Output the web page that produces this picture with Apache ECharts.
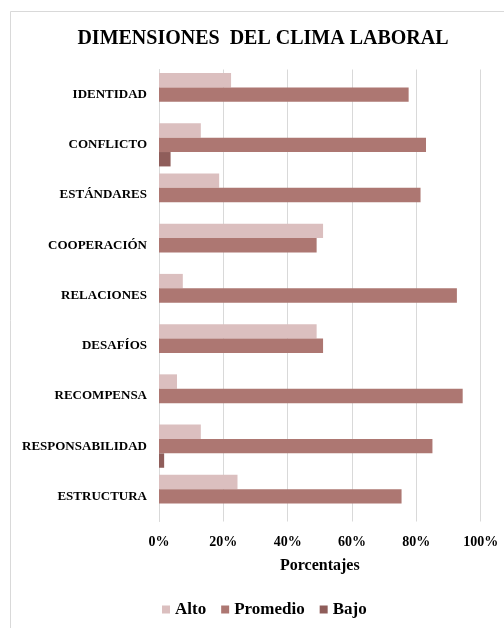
<!DOCTYPE html>
<html>
<head>
<meta charset="utf-8">
<script src="https://cdn.jsdelivr.net/npm/echarts@6/dist/echarts.min.js"></script>
<style>html,body{margin:0;padding:0;background:#fff}#c{width:504px;height:628px}</style>
</head>
<body>
<div id="c"></div>
<script>
var categories = ['IDENTIDAD','CONFLICTO','ESTÁNDARES','COOPERACIÓN','RELACIONES','DESAFÍOS','RECOMPENSA','RESPONSABILIDAD','ESTRUCTURA'];
var alto =     [22.4, 13.0, 18.7, 51.0, 7.4, 49.0, 5.6, 13.0, 24.4];
var promedio = [77.6, 83.0, 81.3, 49.0, 92.6, 51.0, 94.4, 85.0, 75.4];
var bajo =     [null, 3.6, null, null, null, null, null, 1.6, null];
var xTicks = [0, 20, 40, 60, 80, 100];
var seriesNames = ['Alto', 'Promedio', 'Bajo'];

var FONT = "'Liberation Serif', 'Times New Roman', serif";
var chart = echarts.init(document.getElementById('c'), null, {renderer: 'canvas'});
chart.setOption({
  animation: false,
  backgroundColor: '#ffffff',
  graphic: [{
    type: 'rect', silent: true, z: -1,
    shape: {x: 10.5, y: 11.5, width: 530, height: 650},
    style: {fill: 'none', stroke: '#d9d9d9', lineWidth: 1}
  }],
  title: {
    text: 'DIMENSIONES  DEL CLIMA LABORAL',
    left: 263, top: 29, textAlign: 'center', padding: 0,
    textStyle: {fontFamily: FONT, fontWeight: 'bold', fontSize: 20, color: '#000'}
  },
  legend: {
    data: seriesNames,
    left: 162, top: 601, padding: 0,
    itemWidth: 8, itemHeight: 8, itemGap: 15,
    icon: 'rect',
    textStyle: {fontFamily: FONT, fontWeight: 'bold', fontSize: 17, color: '#000'}
  },
  grid: {left: 159, right: 23.3, top: 69.5, bottom: 106.5, containLabel: false},
  xAxis: {
    type: 'value', min: xTicks[0], max: xTicks[xTicks.length-1], interval: 20,
    name: 'Porcentajes', nameLocation: 'middle', nameGap: 36,
    nameTextStyle: {fontFamily: FONT, fontWeight: 'bold', fontSize: 16, color: '#000'},
    axisLine: {show: false}, axisTick: {show: false},
    axisLabel: {formatter: '{value}%', fontFamily: FONT, fontWeight: 'bold', fontSize: 14, color: '#000', margin: 14},
    splitLine: {show: true, lineStyle: {color: '#d9d9d9', width: 1}}
  },
  yAxis: {
    type: 'category', data: categories, inverse: true,
    axisLine: {show: true, lineStyle: {color: '#d9d9d9'}},
    axisTick: {show: false},
    axisLabel: {fontFamily: FONT, fontWeight: 'bold', fontSize: 13, color: '#000', margin: 12}
  },
  series: [
    {name: seriesNames[0], type: 'bar', data: alto, barGap: '0%', barCategoryGap: '14%',
     itemStyle: {color: '#dbbfbf'}},
    {name: seriesNames[1], type: 'bar', data: promedio, barGap: '0%', barCategoryGap: '14%',
     itemStyle: {color: '#ad7772'}},
    {name: seriesNames[2], type: 'bar', data: bajo, barGap: '0%', barCategoryGap: '14%',
     itemStyle: {color: '#8f5d5a'}}
  ]
});
</script>
</body>
</html>
